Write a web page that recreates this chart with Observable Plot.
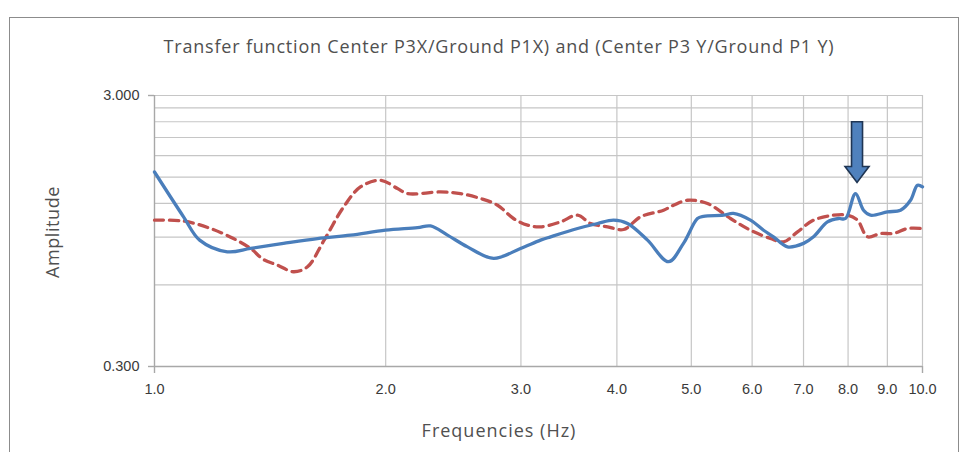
<!DOCTYPE html>
<html><head><meta charset="utf-8">
<script src="https://cdn.jsdelivr.net/npm/d3@7"></script>
<script src="https://cdn.jsdelivr.net/npm/@observablehq/plot@0.6"></script>
<style>
body{margin:0;background:#fff;}
#wrap{position:relative;width:969px;height:452px;overflow:hidden;background:#fff;}
#frame{position:absolute;left:9px;top:17px;width:950px;height:470px;border:1px solid #8c8c8c;box-sizing:border-box;}
#chart{position:absolute;left:0;top:0;}
.txt{position:absolute;font-family:"Open Sans",sans-serif;color:#505050;white-space:nowrap;}
#title{left:0;width:998px;top:33px;text-align:center;font-size:18px;line-height:26px;letter-spacing:0.8px;}
#xlab{left:0;width:998px;top:417px;text-align:center;font-size:18px;line-height:26px;letter-spacing:1px;}
#ylab{left:52px;top:232px;font-size:18px;line-height:26px;letter-spacing:0.6px;transform:translate(-50%,-50%) rotate(-90deg);}
</style></head>
<body>
<div id="wrap">
  <div id="frame"></div>
  <div id="chart"></div>
  <div class="txt" id="title">Transfer function Center P3X/Ground P1X) and (Center P3 Y/Ground P1 Y)</div>
  <div class="txt" id="xlab">Frequencies (Hz)</div>
  <div class="txt" id="ylab">Amplitude</div>
</div>
<script>
// ---- data ----
const blueFreq = [
  1.000, 1.091, 1.145, 1.244, 1.334, 1.472, 1.630, 1.800, 1.999,
  2.200, 2.288, 2.407, 2.556, 2.764, 2.996, 3.182, 3.279, 3.555,
  3.775, 3.961, 4.130, 4.385, 4.670, 4.884, 5.093, 5.186, 5.507,
  5.674, 5.970, 6.209, 6.397, 6.671, 7.000, 7.213, 7.521, 7.774,
  7.939, 8.180, 8.379, 8.556, 9.004, 9.362, 9.647, 9.851, 10.00
];
const blueAmp = [
  1.566, 1.070, 0.878, 0.795, 0.818, 0.854, 0.890, 0.916, 0.955,
  0.976, 0.990, 0.916, 0.829, 0.752, 0.818, 0.878, 0.903, 0.969,
  1.011, 1.040, 1.011, 0.878, 0.731, 0.854, 1.055, 1.075, 1.085,
  1.101, 1.040, 0.955, 0.903, 0.829, 0.854, 0.903, 1.025, 1.055,
  1.055, 1.304, 1.132, 1.085, 1.116, 1.132, 1.232, 1.400, 1.380
];
const redFreq = [
  1.000, 1.091, 1.183, 1.267, 1.334, 1.386, 1.446, 1.517, 1.582,
  1.660, 1.763, 1.854, 1.969, 2.072, 2.135, 2.357, 2.503, 2.658,
  2.797, 2.934, 3.060, 3.182, 3.379, 3.555, 3.697, 3.890, 4.081,
  4.294, 4.601, 4.740, 4.943, 5.249, 5.623, 5.970, 6.340, 6.592,
  6.875, 7.213, 7.658, 7.986, 8.230, 8.479, 8.818, 9.167, 9.561, 10.00
];
const redAmp = [
  1.040, 1.032, 0.969, 0.890, 0.818, 0.745, 0.710, 0.671, 0.700,
  0.870, 1.164, 1.379, 1.460, 1.361, 1.304, 1.322, 1.304, 1.250,
  1.181, 1.055, 0.997, 0.983, 1.025, 1.085, 1.011, 0.983, 0.961,
  1.070, 1.132, 1.181, 1.232, 1.198, 1.055, 0.955, 0.890, 0.865,
  0.942, 1.040, 1.085, 1.085, 1.040, 0.903, 0.929, 0.929, 0.969, 0.969
];
const xTicks = [1, 2, 3, 4, 5, 6, 7, 8, 9, 10];
const xGrid = [2, 3, 4, 5, 6, 7, 8, 9, 10];
const yTicks = [0.3, 3.0];
const yGrid = [0.6, 0.9, 1.2, 1.5, 1.8, 2.1, 2.4, 2.7, 3.0];
// annotation arrow (points at the peak near 8.2 Hz)
const arrowFreq = 8.23;
const arrowTop = 2.39;
const arrowHeadBase = 1.634;
const arrowTip = 1.427;

const blue = blueFreq.map((f, i) => ({f, a: blueAmp[i]}));
const red = redFreq.map((f, i) => ({f, a: redAmp[i]}));

const arrowMark = (index, scales) => {
  const x = scales.x(arrowFreq);
  const yt = scales.y(arrowTop), yb = scales.y(arrowHeadBase), yp = scales.y(arrowTip);
  const sw = 5.5, hw = 12;
  const pts = [[x - sw, yt], [x + sw, yt], [x + sw, yb], [x + hw, yb], [x, yp], [x - hw, yb], [x - sw, yb]];
  return d3.create("svg:polygon")
    .attr("points", pts.map(p => p.join(",")).join(" "))
    .attr("fill", "#4f81bd")
    .attr("stroke", "#1f3553")
    .attr("stroke-width", 1.6)
    .attr("stroke-linejoin", "miter")
    .node();
};

const chart = Plot.plot({
  width: 969,
  height: 452,
  marginLeft: 154,
  marginRight: 47,
  marginTop: 95,
  marginBottom: 86,
  style: {fontFamily: "'Liberation Sans', Arial, sans-serif", fontSize: "14.5px", color: "#3a3a3a", background: "transparent", overflow: "visible"},
  x: {type: "log", domain: [1, 10], ticks: xTicks, tickFormat: d => d.toFixed(1), tickSize: 0, tickPadding: 17, label: null},
  y: {type: "log", domain: [0.3, 3], ticks: yTicks, tickFormat: d => d.toFixed(3), tickSize: 0, tickPadding: 15, label: null},
  marks: [
    Plot.ruleY(yGrid, {stroke: "#c6c6c6", strokeWidth: 1.2, strokeOpacity: 1}),
    Plot.ruleX(xGrid, {stroke: "#c6c6c6", strokeWidth: 1.2, strokeOpacity: 1}),
    Plot.ruleX([1], {stroke: "#a8a8a8", strokeWidth: 1.4}),
    Plot.ruleY([0.3], {stroke: "#a8a8a8", strokeWidth: 1.4}),
    Plot.ruleY(yTicks, {x1: 1, x2: 1, insetLeft: -6, stroke: "#a8a8a8", strokeWidth: 1.4}),
    Plot.ruleX([1, 10], {y1: 0.3, y2: 0.3, insetBottom: -7, stroke: "#a8a8a8", strokeWidth: 1.4}),
    Plot.line(red, {x: "f", y: "a", curve: "catmull-rom", stroke: "#c0504d", strokeWidth: 3.3, strokeDasharray: "9,6"}),
    Plot.line(blue, {x: "f", y: "a", curve: "catmull-rom", stroke: "#4a7ebb", strokeWidth: 3.3}),
    arrowMark
  ]
});
document.getElementById("chart").appendChild(chart);
</script>
</body></html>
